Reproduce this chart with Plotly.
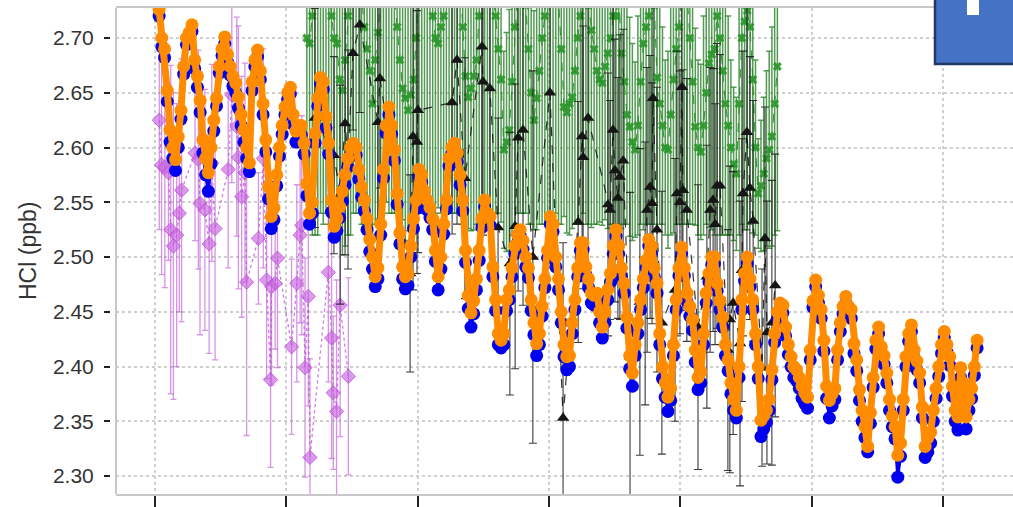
import plotly.graph_objects as go

# ---------------- data ----------------
# Monthly series (values per calendar year, Jan..Dec); first year starts at START month
ORANGE_START = (1992, 2)
orange_by_year = [
    [2.726, 2.700, 2.690, 2.652, 2.616, 2.600, 2.589, 2.610, 2.634, 2.674, 2.700],
    [2.705, 2.712, 2.680, 2.665, 2.643, 2.607, 2.590, 2.577, 2.600, 2.625, 2.645, 2.674],
    [2.690, 2.701, 2.685, 2.674, 2.665, 2.659, 2.646, 2.630, 2.616, 2.600, 2.586, 2.660],
    [2.680, 2.689, 2.670, 2.640, 2.607, 2.564, 2.537, 2.545, 2.575, 2.600, 2.620, 2.637],
    [2.650, 2.655, 2.630, 2.615, 2.620, 2.620, 2.604, 2.567, 2.540, 2.550, 2.613, 2.645],
    [2.664, 2.660, 2.628, 2.604, 2.552, 2.528, 2.535, 2.546, 2.560, 2.575, 2.590, 2.600],
    [2.604, 2.600, 2.580, 2.564, 2.552, 2.535, 2.516, 2.500, 2.482, 2.490, 2.530, 2.580],
    [2.620, 2.637, 2.620, 2.598, 2.558, 2.522, 2.491, 2.482, 2.485, 2.510, 2.535, 2.552],
    [2.580, 2.575, 2.560, 2.552, 2.545, 2.535, 2.506, 2.482, 2.500, 2.530, 2.552, 2.590],
    [2.600, 2.604, 2.595, 2.575, 2.552, 2.506, 2.465, 2.449, 2.460, 2.480, 2.506, 2.535],
    [2.552, 2.540, 2.537, 2.491, 2.461, 2.430, 2.424, 2.430, 2.461, 2.470, 2.490, 2.510],
    [2.520, 2.525, 2.515, 2.500, 2.490, 2.461, 2.440, 2.421, 2.430, 2.455, 2.480, 2.506],
    [2.537, 2.530, 2.500, 2.480, 2.450, 2.420, 2.409, 2.410, 2.440, 2.461, 2.490, 2.513],
    [2.513, 2.491, 2.480, 2.467, 2.465, 2.467, 2.450, 2.436, 2.450, 2.470, 2.485, 2.510],
    [2.525, 2.510, 2.490, 2.476, 2.445, 2.410, 2.394, 2.420, 2.440, 2.461, 2.480, 2.497],
    [2.516, 2.510, 2.490, 2.476, 2.430, 2.400, 2.385, 2.372, 2.380, 2.420, 2.461, 2.490],
    [2.509, 2.490, 2.467, 2.455, 2.443, 2.415, 2.390, 2.395, 2.430, 2.467, 2.485, 2.500],
    [2.500, 2.476, 2.460, 2.445, 2.420, 2.406, 2.385, 2.370, 2.360, 2.400, 2.461, 2.485],
    [2.500, 2.480, 2.461, 2.430, 2.400, 2.351, 2.355, 2.360, 2.370, 2.397, 2.430, 2.450],
    [2.458, 2.456, 2.436, 2.420, 2.409, 2.400, 2.397, 2.390, 2.382, 2.376, 2.372, 2.415],
    [2.460, 2.479, 2.465, 2.452, 2.424, 2.382, 2.369, 2.375, 2.380, 2.415, 2.440, 2.455],
    [2.464, 2.455, 2.452, 2.421, 2.406, 2.379, 2.360, 2.345, 2.327, 2.358, 2.390, 2.424],
    [2.436, 2.418, 2.410, 2.394, 2.370, 2.355, 2.345, 2.319, 2.330, 2.370, 2.409, 2.430],
    [2.438, 2.415, 2.405, 2.394, 2.363, 2.327, 2.335, 2.340, 2.360, 2.380, 2.400, 2.420],
    [2.432, 2.420, 2.409, 2.382, 2.360, 2.354, 2.399, 2.385, 2.354, 2.370, 2.380, 2.400],
    [2.424],
]

BLUE_START = (1992, 2)
blue_by_year = [
    [2.720, 2.692, 2.682, 2.642, 2.605, 2.590, 2.579, 2.600, 2.626, 2.667, 2.694],
    [2.700, 2.706, 2.672, 2.655, 2.632, 2.595, 2.575, 2.560, 2.585, 2.615, 2.638, 2.668],
    [2.684, 2.695, 2.678, 2.666, 2.656, 2.650, 2.636, 2.620, 2.605, 2.590, 2.578, 2.652],
    [2.674, 2.683, 2.662, 2.630, 2.596, 2.553, 2.526, 2.534, 2.565, 2.592, 2.612, 2.630],
    [2.644, 2.649, 2.621, 2.605, 2.611, 2.611, 2.594, 2.556, 2.530, 2.540, 2.604, 2.638],
    [2.658, 2.653, 2.618, 2.594, 2.541, 2.518, 2.524, 2.536, 2.551, 2.566, 2.582, 2.593],
    [2.598, 2.593, 2.571, 2.555, 2.542, 2.525, 2.505, 2.489, 2.473, 2.480, 2.520, 2.572],
    [2.613, 2.630, 2.612, 2.588, 2.548, 2.512, 2.480, 2.471, 2.474, 2.500, 2.526, 2.544],
    [2.573, 2.568, 2.551, 2.543, 2.536, 2.525, 2.496, 2.470, 2.489, 2.521, 2.544, 2.583],
    [2.594, 2.598, 2.587, 2.566, 2.542, 2.495, 2.453, 2.436, 2.448, 2.470, 2.497, 2.527],
    [2.546, 2.533, 2.529, 2.482, 2.451, 2.420, 2.417, 2.420, 2.451, 2.461, 2.482, 2.503],
    [2.513, 2.519, 2.507, 2.491, 2.481, 2.451, 2.429, 2.410, 2.420, 2.446, 2.472, 2.499],
    [2.530, 2.523, 2.491, 2.470, 2.440, 2.409, 2.397, 2.400, 2.430, 2.452, 2.482, 2.506],
    [2.507, 2.484, 2.472, 2.458, 2.456, 2.458, 2.440, 2.426, 2.440, 2.461, 2.477, 2.503],
    [2.519, 2.503, 2.482, 2.467, 2.435, 2.398, 2.382, 2.410, 2.430, 2.452, 2.472, 2.490],
    [2.510, 2.503, 2.482, 2.467, 2.420, 2.389, 2.372, 2.359, 2.369, 2.410, 2.452, 2.483],
    [2.503, 2.483, 2.459, 2.446, 2.433, 2.404, 2.379, 2.385, 2.420, 2.458, 2.477, 2.493],
    [2.494, 2.469, 2.452, 2.436, 2.410, 2.396, 2.375, 2.360, 2.353, 2.390, 2.452, 2.478],
    [2.494, 2.473, 2.452, 2.420, 2.389, 2.336, 2.343, 2.349, 2.360, 2.388, 2.422, 2.443],
    [2.452, 2.449, 2.428, 2.411, 2.400, 2.390, 2.387, 2.380, 2.371, 2.366, 2.362, 2.406],
    [2.454, 2.473, 2.458, 2.444, 2.414, 2.371, 2.353, 2.364, 2.370, 2.406, 2.432, 2.448],
    [2.458, 2.448, 2.444, 2.412, 2.396, 2.369, 2.350, 2.335, 2.322, 2.348, 2.381, 2.416],
    [2.430, 2.411, 2.402, 2.385, 2.360, 2.345, 2.334, 2.299, 2.318, 2.360, 2.400, 2.423],
    [2.432, 2.408, 2.397, 2.385, 2.353, 2.317, 2.322, 2.330, 2.350, 2.371, 2.391, 2.412],
    [2.426, 2.413, 2.401, 2.373, 2.350, 2.342, 2.390, 2.376, 2.343, 2.360, 2.371, 2.392],
    [2.417],
]

GREEN_START = (1996, 8)
green_by_year = [
    [2.700, 2.695, 2.720, 2.760, 2.780],
    [2.790, 2.800, 2.780, 2.750, 2.720, 2.700, 2.695, 2.662, 2.652, 2.680, 2.720, 2.760],
    [2.780, 2.790, 2.770, 2.740, 2.710, 2.690, 2.670, 2.640, 2.680, 2.705, 2.740, 2.770],
    [2.780, 2.780, 2.760, 2.740, 2.710, 2.680, 2.654, 2.645, 2.634, 2.648, 2.662, 2.700],
    [2.770, 2.790, 2.800, 2.780, 2.750, 2.720, 2.700, 2.695, 2.710, 2.720, 2.750, 2.780],
    [2.790, 2.800, 2.780, 2.750, 2.710, 2.665, 2.646, 2.654, 2.665, 2.680, 2.720, 2.760],
    [2.790, 2.780, 2.760, 2.740, 2.720, 2.690, 2.662, 2.598, 2.605, 2.616, 2.660, 2.710],
    [2.760, 2.780, 2.770, 2.730, 2.690, 2.650, 2.625, 2.645, 2.670, 2.700, 2.720, 2.760],
    [2.790, 2.800, 2.780, 2.740, 2.690, 2.637, 2.632, 2.640, 2.646, 2.670, 2.700, 2.720],
    [2.740, 2.750, 2.730, 2.707, 2.690, 2.670, 2.662, 2.659, 2.674, 2.686, 2.700, 2.720],
    [2.720, 2.740, 2.686, 2.660, 2.630, 2.619, 2.605, 2.598, 2.620, 2.660, 2.695, 2.710],
    [2.720, 2.750, 2.730, 2.664, 2.640, 2.620, 2.600, 2.598, 2.630, 2.662, 2.690, 2.710],
    [2.740, 2.760, 2.740, 2.700, 2.660, 2.619, 2.600, 2.596, 2.620, 2.650, 2.677, 2.685],
    [2.690, 2.720, 2.700, 2.670, 2.640, 2.620, 2.600, 2.585, 2.576, 2.640, 2.700, 2.715],
    [2.725, 2.710, 2.662, 2.600, 2.558, 2.565, 2.576, 2.590, 2.598, 2.610, 2.640, 2.674],
]
green_err_by_year = [
    [0.17, 0.16, 0.20, 0.24, 0.26],
    [0.25, 0.27, 0.24, 0.22, 0.19, 0.17, 0.18, 0.14, 0.15, 0.17, 0.20, 0.24],
    [0.24, 0.25, 0.23, 0.21, 0.18, 0.16, 0.14, 0.12, 0.15, 0.17, 0.20, 0.23],
    [0.23, 0.24, 0.22, 0.20, 0.17, 0.15, 0.12, 0.13, 0.11, 0.12, 0.13, 0.16],
    [0.23, 0.25, 0.26, 0.24, 0.21, 0.18, 0.16, 0.15, 0.17, 0.18, 0.21, 0.24],
    [0.25, 0.26, 0.24, 0.21, 0.18, 0.14, 0.12, 0.13, 0.14, 0.15, 0.19, 0.22],
    [0.25, 0.24, 0.22, 0.20, 0.18, 0.15, 0.13, 0.09, 0.10, 0.11, 0.14, 0.18],
    [0.22, 0.24, 0.23, 0.19, 0.16, 0.12, 0.10, 0.12, 0.14, 0.17, 0.19, 0.23],
    [0.25, 0.27, 0.24, 0.21, 0.16, 0.10, 0.11, 0.12, 0.12, 0.14, 0.17, 0.19],
    [0.20, 0.22, 0.20, 0.18, 0.16, 0.14, 0.13, 0.13, 0.14, 0.16, 0.17, 0.19],
    [0.19, 0.21, 0.16, 0.13, 0.10, 0.10, 0.09, 0.08, 0.10, 0.13, 0.17, 0.18],
    [0.19, 0.22, 0.20, 0.14, 0.11, 0.09, 0.08, 0.09, 0.11, 0.14, 0.16, 0.18],
    [0.21, 0.23, 0.21, 0.17, 0.13, 0.09, 0.08, 0.08, 0.10, 0.12, 0.15, 0.16],
    [0.17, 0.19, 0.18, 0.15, 0.12, 0.10, 0.08, 0.07, 0.07, 0.12, 0.17, 0.19],
    [0.20, 0.18, 0.14, 0.08, 0.05, 0.06, 0.07, 0.08, 0.09, 0.10, 0.12, 0.15],
]

# Irregular series (decimal year, value, error)
black_t = [1996.87, 1997.45, 1997.64, 1997.79, 1997.88, 1998.03, 1998.24, 1998.79, 1998.85,
           1999.77, 1999.86, 1999.98, 2000.01, 2001.05, 2001.20, 2001.44, 2001.96, 2001.99,
           2002.20, 2002.45, 2002.81, 2002.97, 2003.06, 2003.21, 2003.51, 2004.03, 2004.43,
           2004.89, 2005.01, 2005.04, 2005.19, 2005.80, 2005.86, 2005.95, 2006.01, 2006.10,
           2006.16, 2006.26, 2006.47, 2006.77, 2006.93, 2006.99, 2007.08, 2007.14, 2007.17,
           2007.29, 2007.44, 2007.84, 2007.90, 2007.99, 2008.05, 2008.08, 2008.20, 2008.54,
           2008.81, 2008.91, 2009.00, 2009.06, 2009.12, 2009.21, 2009.45, 2009.51, 2009.61,
           2009.82, 2009.88, 2009.91, 2010.03, 2010.12, 2010.22, 2010.49, 2010.58, 2010.64,
           2010.79, 2010.89]
black_v = [2.627, 2.593, 2.557, 2.622, 2.589, 2.686, 2.712, 2.623, 2.663,
           2.485, 2.610, 2.605, 2.634, 2.641, 2.680, 2.572, 2.692, 2.660,
           2.654, 2.527, 2.494, 2.528, 2.609, 2.616, 2.500, 2.650, 2.353,
           2.532, 2.610, 2.591, 2.627, 2.548, 2.543, 2.616, 2.579, 2.554,
           2.573, 2.588, 2.409, 2.459, 2.485, 2.543, 2.564, 2.549, 2.645,
           2.525, 2.440, 2.470, 2.558, 2.550, 2.655, 2.561, 2.543, 2.436,
           2.482, 2.543, 2.552, 2.530, 2.565, 2.565, 2.415, 2.443, 2.458,
           2.421, 2.488, 2.558, 2.614, 2.563, 2.533, 2.399, 2.517, 2.431,
           2.440, 2.474]
black_e = [0.10, 0.09, 0.10, 0.12, 0.10, 0.07, 0.08, 0.12, 0.10,
           0.09, 0.14, 0.12, 0.13, 0.12, 0.15, 0.11, 0.16, 0.14,
           0.12, 0.10, 0.12, 0.13, 0.14, 0.16, 0.17, 0.14, 0.16,
           0.11, 0.13, 0.12, 0.15, 0.12, 0.10, 0.14, 0.12, 0.11,
           0.13, 0.12, 0.15, 0.14, 0.12, 0.13, 0.12, 0.11, 0.15,
           0.13, 0.12, 0.12, 0.13, 0.12, 0.16, 0.11, 0.12, 0.13,
           0.12, 0.13, 0.12, 0.11, 0.13, 0.12, 0.11, 0.14, 0.12,
           0.13, 0.12, 0.13, 0.14, 0.12, 0.11, 0.09, 0.12, 0.12,
           0.13, 0.12]

purple_t = [1992.13, 1992.20, 1992.30, 1992.41, 1992.48, 1992.56, 1992.66, 1992.74, 1992.81,
            1993.22, 1993.32, 1993.37, 1993.52, 1993.65, 1993.73, 1993.83,
            1994.23, 1994.34, 1994.49, 1994.54, 1994.64, 1994.74, 1994.79,
            1995.15, 1995.30, 1995.40, 1995.52, 1995.55, 1995.66, 1995.73,
            1996.16, 1996.32, 1996.42, 1996.47, 1996.57, 1996.67, 1996.72,
            1997.28, 1997.38, 1997.43, 1997.53, 1997.64, 1997.89]
purple_v = [2.625, 2.584, 2.582, 2.577, 2.525, 2.510, 2.520, 2.540, 2.561,
            2.595, 2.589, 2.549, 2.543, 2.512, 2.586, 2.526,
            2.580, 2.648, 2.619, 2.591, 2.555, 2.577, 2.477,
            2.517, 2.590, 2.479, 2.388, 2.473, 2.476, 2.499,
            2.418, 2.476, 2.520, 2.529, 2.399, 2.464, 2.317,
            2.486, 2.426, 2.376, 2.359, 2.456, 2.391]
purple_e = [0.10, 0.10, 0.11, 0.08, 0.15, 0.14, 0.12, 0.09, 0.12,
            0.08, 0.10, 0.12, 0.11, 0.10, 0.09, 0.12,
            0.09, 0.08, 0.10, 0.12, 0.11, 0.10, 0.14,
            0.06, 0.10, 0.09, 0.08, 0.09, 0.06, 0.10,
            0.08, 0.09, 0.08, 0.10, 0.10, 0.10, 0.09,
            0.10, 0.11, 0.07, 0.12, 0.12, 0.09]

x_ticks = [1992, 1996, 2000, 2004, 2008, 2012, 2016]
y_ticks = [2.30, 2.35, 2.40, 2.45, 2.50, 2.55, 2.60, 2.65, 2.70]
y_ticktext = ["2.30", "2.35", "2.40", "2.45", "2.50", "2.55", "2.60", "2.65", "2.70"]


def monthly(start, by_year):
    y0, m0 = start
    xs, vs = [], []
    for i, row in enumerate(by_year):
        first = m0 if i == 0 else 1
        for j, v in enumerate(row):
            m = first + j
            xs.append(y0 + i + (m - 0.5) / 12.0)
            vs.append(v)
    return xs, vs


ox, ov = monthly(ORANGE_START, orange_by_year)
bx, bv = monthly(BLUE_START, blue_by_year)
gx, gv = monthly(GREEN_START, green_by_year)
_, ge = monthly(GREEN_START, green_err_by_year)

# ---------------- figure ----------------
W, H = 1013, 507
L_PLOT, T_PLOT, B_PLOT = 116, 8, 494


def px_x(p):
    return p / W


def px_y(p):
    return (B_PLOT - p) / (B_PLOT - T_PLOT)


fig = go.Figure()

fig.add_trace(go.Scatter(
    x=gx, y=gv, mode="lines+markers",
    line=dict(color="rgba(30,140,30,0.85)", width=1.2, dash="dash"),
    marker=dict(symbol="x", size=8, color="rgba(40,150,40,0.9)"),
    error_y=dict(type="data", array=ge, color="rgba(40,130,40,0.8)", thickness=1.5, width=3),
    showlegend=False))

fig.add_trace(go.Scatter(
    x=purple_t, y=purple_v, mode="lines+markers",
    line=dict(color="rgba(185,80,210,0.75)", width=1.3, dash="dot"),
    marker=dict(symbol="diamond", size=11, color="rgba(200,100,222,0.65)",
                line=dict(color="rgba(185,80,210,0.75)", width=1)),
    error_y=dict(type="data", array=purple_e, color="rgba(190,90,215,0.65)", thickness=1.3, width=3),
    showlegend=False))

fig.add_trace(go.Scatter(
    x=black_t, y=black_v, mode="lines+markers",
    line=dict(color="rgba(15,15,15,0.85)", width=1.2, dash="dash"),
    marker=dict(symbol="triangle-up", size=11, color="#151515"),
    error_y=dict(type="data", array=black_e, color="rgba(25,25,25,0.85)", thickness=1.1, width=4),
    showlegend=False))

fig.add_trace(go.Scatter(
    x=bx, y=bv, mode="lines+markers",
    line=dict(color="#0000ee", width=3),
    marker=dict(symbol="circle", size=13, color="#0000ee"),
    showlegend=False))

fig.add_trace(go.Scatter(
    x=ox, y=ov, mode="lines+markers",
    line=dict(color="#ff8c00", width=7),
    marker=dict(symbol="circle", size=13, color="#ff8c00"),
    showlegend=False))

fig.update_layout(
    width=W, height=H,
    margin=dict(l=0, r=0, t=T_PLOT, b=H - B_PLOT),
    paper_bgcolor="white", plot_bgcolor="white",
    font=dict(family="Liberation Sans, Arial, sans-serif", color="#333333"),
    xaxis=dict(
        domain=[L_PLOT / W, 1.0],
        range=[1990.812, 2018.135],
        tickvals=x_ticks, showticklabels=False,
        ticks="outside", ticklen=12, tickwidth=2, tickcolor="#222222",
        showgrid=True, gridcolor="#cfcfcf", griddash="dot", gridwidth=1.5,
        showline=True, linecolor="#c8c8c8", linewidth=2, mirror=True,
        zeroline=False,
    ),
    yaxis=dict(
        anchor="free", position=110 / W,
        range=[2.2836, 2.7274],
        tickvals=y_ticks, ticktext=y_ticktext,
        ticks="outside", ticklen=6, tickwidth=2, tickcolor="#222222",
        ticklabelstandoff=6,
        tickfont=dict(size=21, color="#333333"),
        showgrid=True, gridcolor="#cfcfcf", griddash="dot", gridwidth=1.5,
        showline=False, zeroline=False,
    ),
    shapes=[
        dict(type="line", xref="paper", yref="paper",
             x0=L_PLOT / W, x1=L_PLOT / W, y0=0, y1=1,
             line=dict(color="#c8c8c8", width=2)),
        dict(type="rect", xref="paper", yref="paper",
             x0=px_x(935), x1=1.02, y0=px_y(64), y1=px_y(-3),
             fillcolor="#4472C4", line=dict(color="#203864", width=2.5), layer="above"),
        dict(type="rect", xref="paper", yref="paper",
             x0=px_x(967), x1=px_x(979), y0=px_y(15), y1=px_y(-3),
             fillcolor="white", line=dict(width=0), layer="above"),
    ],
    annotations=[
        dict(text="HCl (ppb)", xref="paper", yref="paper",
             x=px_x(28), y=px_y(251), textangle=-90, showarrow=False,
             font=dict(size=23, color="#333333"), xanchor="center", yanchor="middle"),
    ],
)

fig.write_html("out.html")
